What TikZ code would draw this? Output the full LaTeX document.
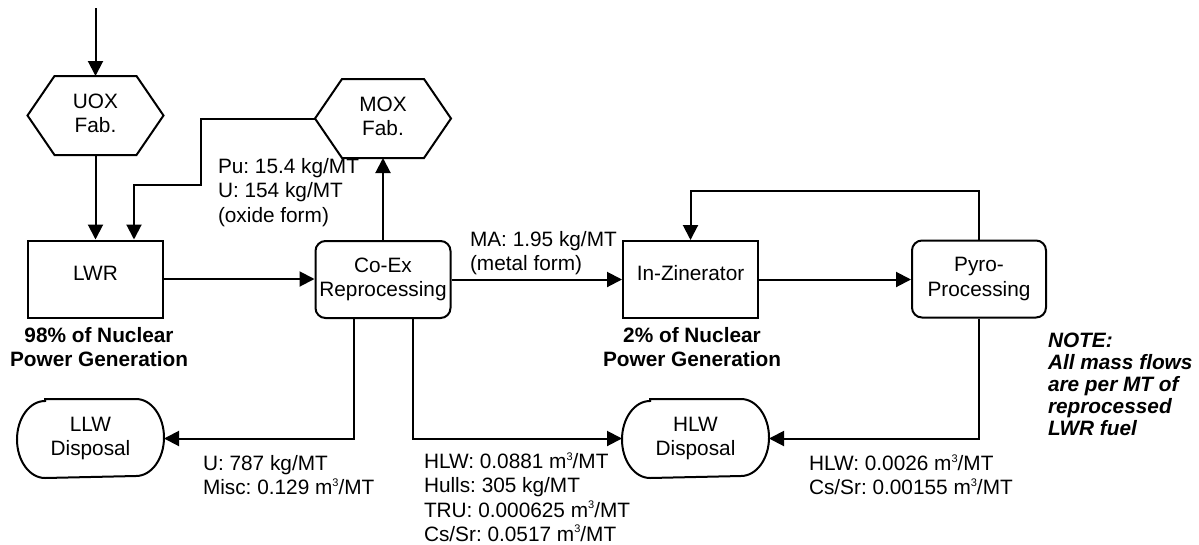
\documentclass[tikz,border=0pt]{standalone}
\usepackage{fontspec}
\setmainfont{Liberation Sans}
\usetikzlibrary{arrows.meta}
\frenchspacing
\newcommand{\cubsup}{\raisebox{8.5pt}[0pt][0pt]{\fontsize{11}{11}\selectfont 3}}
\begin{document}
\begin{tikzpicture}[x=1pt,y=-1pt, line width=2pt,
  every node/.style={font=\fontsize{20.8}{24.3}\selectfont\frenchspacing, inner sep=0pt},
  box/.style={draw, minimum width=135pt, minimum height=77pt, align=center},
  rbox/.style={box, rounded corners=10pt},
  hexnode/.style={minimum width=134pt, minimum height=77pt, align=center},
  stadnode/.style={minimum width=145pt, minimum height=77pt, align=center},
  arr/.style={-{Triangle[length=15pt,width=15pt]}},
  lab/.style={align=left, anchor=north west},
  boldlab/.style={align=center, anchor=north, font=\fontsize{20.8}{24.3}\selectfont\bfseries\frenchspacing},
  notelab/.style={align=left, anchor=north west, font=\fontsize{20.8}{22}\selectfont\bfseries\itshape\frenchspacing}]
\useasboundingbox (0,0) rectangle (1199,544);

% nodes
\node[box] (lwr) at (95.5,279) {\raisebox{6pt}[\height][\depth]{LWR}};
\node[rbox] (coex) at (383,279.5) {Co-Ex\\Reprocessing};
\node[box] (inz) at (690.5,279.5) {\raisebox{6pt}[\height][\depth]{In-Zinerator}};
\node[rbox, minimum width=134pt] (pyro) at (979,279) {Pyro-\\Processing};
\node[hexnode] (uox) at (95.5,115.5) {UOX\\Fab.\vphantom{g}};
\node[hexnode] (mox) at (383,118.5) {MOX\\Fab.\vphantom{g}};
\node[stadnode] (llw) at (90.5,438.5) {LLW\\Disposal};
\node[stadnode] (hlw) at (695.5,438.5) {HLW\\Disposal};
\coordinate (src) at (95.5,8);

% hexagon outlines
\foreach \n in {uox,mox} {
  \draw (\n.west) -- ([xshift=27pt]\n.north west) -- ([xshift=-27pt]\n.north east)
        -- (\n.east) -- ([xshift=-27pt]\n.south east) -- ([xshift=27pt]\n.south west) -- cycle;
}
% stadium outlines
\foreach \n in {llw,hlw} {
  \draw ([xshift=28pt]\n.north west) -- ([xshift=-28pt]\n.north east)
        arc[start angle=90, end angle=-90, x radius=28pt, y radius=38.5pt]
        -- ([xshift=28pt]\n.south west)
        arc[start angle=270, end angle=90, x radius=28pt, y radius=38.5pt] -- cycle;
}

% connectors
\draw[arr] (src) -- (uox.north);
\draw[arr] (uox.south) -- (lwr.north);
\draw[arr] (mox.west) -| (201,185) -| ([xshift=38.5pt]lwr.north);
\draw[arr] (coex.north) -- (mox.south);
\draw[arr] (lwr.east) -- (lwr.east -| coex.west);
\draw[arr] (coex.east) -- (coex.east -| inz.west);
\draw[arr] (inz.east) -- (inz.east -| pyro.west);
\draw[arr] (pyro.north) -- ++(0,-49) -| (inz.north);
\draw[arr] (pyro.south) |- (hlw.east);
\draw[arr] ([xshift=29.5pt]coex.south) |- (hlw.west);
\draw[arr] ([xshift=-29.5pt]coex.south) |- (llw.east);

% labels
\node[lab] (pulab) at (217,157.5) {Pu: 15.4 kg/MT\\U: 154 kg/MT\\(oxide form)};
\node[lab] (malab) at (469,230.5) {MA: 1.95 kg/MT\\(metal form)};
\node[lab] (llwlab) at (202,454.5) {U: 787 kg/MT\\Misc: 0.129 m\cubsup/MT};
\node[lab] (hlwlab) at (423,452.5) {HLW: 0.0881 m\cubsup/MT\\Hulls: 305 kg/MT\\TRU: 0.000625 m\cubsup/MT\\Cs/Sr: 0.0517 m\cubsup/MT};
\node[lab] (pyrolab) at (808,454.5) {HLW: 0.0026 m\cubsup/MT\\Cs/Sr: 0.00155 m\cubsup/MT};
\node[boldlab] (lwrpct) at (99,326.5) {98\% of Nuclear\\Power Generation};
\node[boldlab] (inzpct) at (692,326.5) {2\% of Nuclear\\Power Generation};
\node[notelab] (note) at (1047,331.5) {NOTE:\\All mass flows\\are per MT of\\reprocessed\\LWR fuel};
\end{tikzpicture}
\end{document}
